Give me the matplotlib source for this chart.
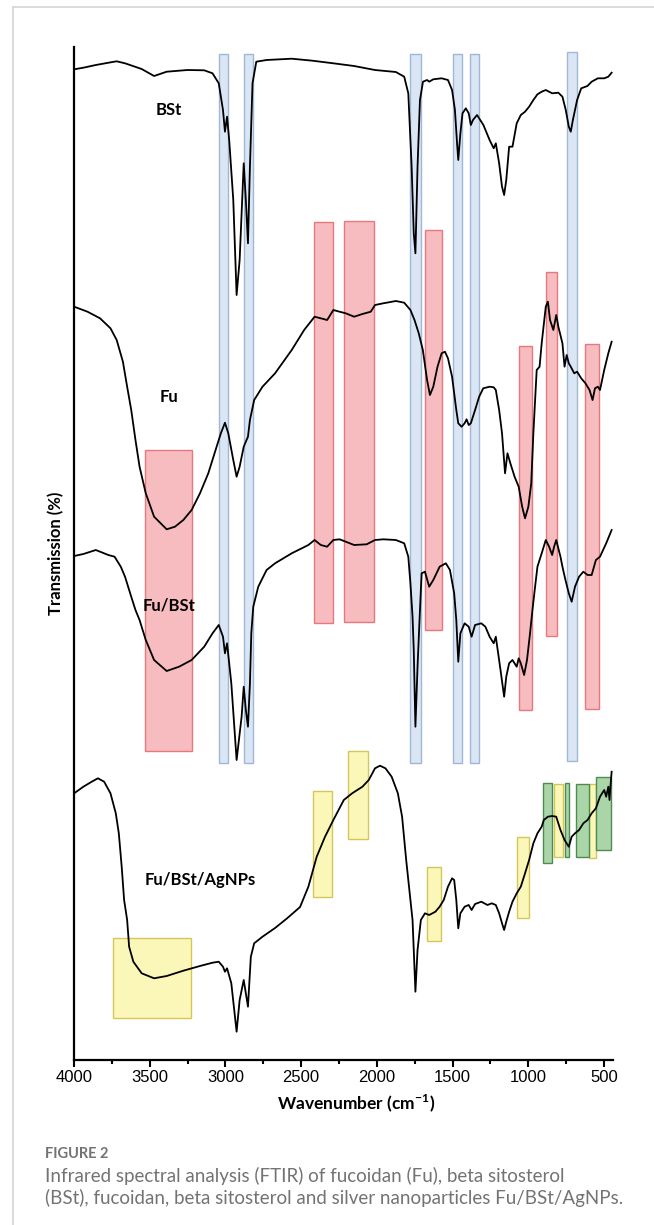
import matplotlib
matplotlib.use("Agg")
import matplotlib.pyplot as plt
from matplotlib.patches import Rectangle
from matplotlib.lines import Line2D

plt.rcParams['mathtext.fontset'] = 'custom'
plt.rcParams['mathtext.rm'] = 'Lato:bold'
plt.rcParams['mathtext.bf'] = 'Lato:bold'

# ---- spectra (wavenumber cm-1, stacked transmission in arbitrary units) ----
bst_wn = [3999, 3938, 3856, 3746, 3718, 3663, 3553, 3471, 3388, 3250, 3140, 3085, 3044, 3016, 3003,
          2989, 2975, 2948, 2926, 2906, 2879, 2865, 2851, 2838, 2821, 2796, 2728, 2562, 2425, 2287,
          2150, 2012, 1874, 1819, 1792, 1770, 1756, 1745, 1731, 1715, 1695, 1668, 1654, 1627, 1572,
          1530, 1503, 1484, 1470, 1462, 1448, 1434, 1412, 1393, 1379, 1365, 1338, 1296, 1255, 1228,
          1214, 1192, 1173, 1159, 1145, 1126, 1104, 1076, 1049, 1021, 994, 966, 939, 911, 884, 842,
          801, 774, 752, 732, 719, 705, 677, 650, 609, 581, 540, 498, 471, 449]
bst_t = [99.07, 99.23, 99.5, 99.8, 99.87, 99.67, 99.1, 98.4, 98.83, 99.0, 98.97, 98.67, 97.67, 95.0, 92.83,
         94.33, 92.0, 86.0, 76.5, 80.0, 89.67, 86.0, 81.67, 89.33, 97.67, 99.83, 100.0, 100.13, 99.93, 99.67,
         99.4, 99.0, 98.8, 98.33, 96.67, 89.33, 82.67, 80.67, 89.33, 96.0, 97.83, 98.0, 97.83, 98.07, 98.17,
         98.0, 97.0, 95.0, 91.67, 90.0, 92.67, 94.67, 95.17, 94.67, 93.5, 94.0, 94.5, 93.5, 92.0, 91.17,
         91.67, 89.67, 87.33, 86.5, 88.0, 91.33, 91.33, 93.67, 94.5, 94.83, 95.33, 96.0, 96.57, 96.83, 97.0, 96.67,
         96.73, 96.33, 95.0, 93.33, 92.83, 94.0, 96.0, 97.17, 97.4, 97.83, 98.17, 98.17, 98.33, 98.73]

fu_wn = [3999, 3911, 3828, 3759, 3718, 3677, 3649, 3622, 3594, 3567, 3526, 3471, 3388, 3333, 3278,
         3223, 3168, 3113, 3058, 3030, 3003, 2981, 2948, 2926, 2906, 2879, 2851, 2838, 2810, 2755,
         2672, 2562, 2480, 2411, 2370, 2328, 2287, 2246, 2205, 2150, 2095, 2040, 2012, 1957, 1874,
         1819, 1778, 1751, 1723, 1696, 1668, 1649, 1627, 1599, 1572, 1550, 1530, 1503, 1475, 1462,
         1440, 1420, 1407, 1393, 1379, 1351, 1324, 1297, 1255, 1228, 1214, 1192, 1173, 1153, 1137,
         1118, 1090, 1063, 1040, 1021, 999, 980, 966, 944, 925, 911, 884, 870, 856, 834, 815, 801,
         774, 760, 746, 732, 719, 696, 677, 650, 622, 595, 575, 559, 540, 526, 498, 471, 449]
fu_t = [75.33, 74.83, 74.17, 73.17, 72.0, 69.83, 67.33, 65.0, 62.0, 59.33, 56.67, 54.33, 53.07, 53.33, 54.0,
        55.0, 56.67, 58.67, 61.33, 62.67, 63.73, 62.67, 60.0, 58.33, 59.33, 61.33, 62.33, 64.0, 66.0, 67.33,
        68.67, 71.0, 73.0, 74.33, 74.17, 74.0, 75.0, 74.83, 74.67, 74.33, 74.6, 74.83, 75.5, 75.67, 75.9,
        75.73, 75.0, 74.0, 72.67, 71.0, 68.0, 66.5, 67.33, 69.33, 70.67, 70.83, 70.17, 68.33, 65.0, 63.67,
        63.33, 63.67, 64.07, 63.5, 63.67, 65.0, 66.33, 67.17, 67.33, 67.27, 67.0, 65.0, 62.67, 58.67, 60.67,
        59.67, 58.33, 57.33, 55.33, 54.17, 55.33, 57.67, 62.67, 69.0, 69.33, 71.67, 75.33, 75.83, 74.0, 73.0, 74.5, 73.33,
        71.67, 69.33, 70.5, 69.67, 69.33, 68.67, 68.83, 68.17, 67.67, 67.0, 66.0, 67.17, 67.33, 67.0, 69.0, 70.67, 71.83]

fubst_wn = [3999, 3938, 3856, 3773, 3732, 3691, 3663, 3622, 3594, 3567, 3526, 3471, 3388, 3306, 3223,
            3140, 3085, 3044, 3016, 3003, 2989, 2961, 2926, 2893, 2879, 2865, 2851, 2838, 2829, 2816,
            2783, 2728, 2672, 2562, 2452, 2411, 2370, 2328, 2287, 2246, 2205, 2150, 2067, 2012, 1957,
            1874, 1819, 1792, 1778, 1764, 1756, 1745, 1731, 1715, 1704, 1682, 1654, 1627, 1585, 1544,
            1517, 1489, 1475, 1462, 1448, 1420, 1393, 1374, 1351, 1310, 1283, 1255, 1228, 1214, 1186,
            1159, 1145, 1126, 1104, 1076, 1063, 1049, 1027, 1008, 988, 972, 952, 939, 911, 884, 862,
            842, 829, 815, 787, 774, 754, 732, 713, 691, 664, 636, 608, 581, 553, 526, 485, 449]
fubst_t = [50.4, 50.6, 51.0, 50.5, 50.33, 49.33, 48.33, 46.33, 45.0, 44.0, 42.0, 40.0, 38.9, 39.33, 40.0,
           41.33, 42.67, 43.5, 42.33, 40.67, 41.67, 37.67, 30.0, 34.33, 37.33, 35.0, 33.33, 37.67, 42.67, 45.33,
           47.33, 49.0, 49.67, 50.67, 51.5, 52.0, 51.5, 51.33, 52.0, 52.07, 51.83, 51.5, 51.57, 52.0, 52.07,
           52.0, 51.67, 50.33, 47.67, 44.33, 41.0, 33.33, 39.33, 45.0, 48.67, 48.83, 47.33, 48.0, 49.33, 49.67,
           49.0, 46.67, 44.0, 39.83, 42.67, 43.67, 43.33, 42.33, 43.5, 43.67, 43.33, 42.33, 41.67, 42.33, 39.33,
           36.33, 38.33, 39.67, 40.0, 39.33, 40.17, 39.67, 38.5, 40.0, 42.67, 45.0, 47.67, 49.33, 50.67, 52.0, 51.33,
           50.5, 51.33, 52.0, 50.33, 49.33, 48.0, 46.67, 45.83, 47.33, 48.33, 48.83, 48.5, 48.5, 50.0, 50.33, 51.67, 53.0]

ag_wn = [3999, 3938, 3883, 3842, 3801, 3759, 3724, 3704, 3685, 3669, 3649, 3636, 3608, 3553, 3471,
         3388, 3278, 3168, 3085, 3044, 3016, 3003, 2989, 2961, 2926, 2906, 2879, 2865, 2851, 2832,
         2810, 2755, 2672, 2590, 2507, 2452, 2397, 2342, 2287, 2218, 2163, 2095, 2053, 2012,
         1979, 1943, 1902, 1861, 1833, 1806, 1778, 1764, 1756, 1745, 1731, 1709, 1682, 1654, 1613,
         1585, 1558, 1530, 1503, 1489, 1475, 1462, 1448, 1420, 1393, 1374, 1351, 1310, 1269, 1241,
         1214, 1192, 1173, 1159, 1145, 1126, 1104, 1076, 1049, 1021, 994, 966, 939, 911, 897, 870,
         842, 815, 787, 760, 732, 713, 691, 664, 636, 608, 581, 553, 526, 498, 485, 471, 463, 457, 449]
ag_t = [26.67, 27.33, 27.83, 28.17, 27.83, 26.67, 24.67, 22.67, 19.33, 16.0, 14.0, 11.33, 9.83, 8.67, 8.17,
        8.4, 8.93, 9.4, 9.73, 9.83, 9.33, 8.83, 9.17, 7.67, 2.83, 6.0, 8.0, 6.67, 5.33, 10.33,
        11.67, 12.33, 13.2, 14.2, 15.3, 17.33, 20.33, 22.33, 24.0, 26.0, 26.67, 27.33, 28.0, 29.17,
        29.43, 29.17, 28.33, 26.67, 24.33, 20.0, 16.0, 14.0, 11.0, 6.83, 11.0, 14.0, 14.67, 14.5, 14.83,
        15.33, 16.0, 17.33, 18.17, 18.0, 16.0, 13.17, 14.67, 15.33, 15.5, 15.0, 15.6, 15.83, 15.5, 15.67,
        15.5, 14.67, 13.67, 13.0, 13.83, 14.83, 15.83, 16.67, 17.33, 18.67, 20.0, 21.67, 22.67, 23.33, 24.0, 24.33,
        24.4, 24.33, 23.0, 22.0, 21.33, 22.33, 22.67, 23.0, 23.67, 24.0, 24.67, 25.17, 26.33, 27.0, 26.33, 27.33, 26.0, 27.33, 28.83]

# ---- highlighted bands: (wn_low, wn_high, t_low, t_high) ----
blue_bands = [(2980, 3040, 29.7, 100.6), (2820, 2880, 29.7, 100.6), (1705, 1778, 29.7, 100.6),
              (1437, 1500, 29.7, 100.6), (1327, 1382, 29.7, 100.6), (678, 741, 29.9, 100.8)]
red_bands = [(3223, 3531, 30.9, 61.0), (2287, 2414, 43.7, 83.8), (2020, 2215, 43.8, 83.9),
             (1571, 1684, 43.0, 83.0), (977, 1060, 35.0, 71.4), (812, 881, 42.4, 78.8),
             (531, 622, 35.1, 71.6)]
yellow_bands = [(3226, 3740, 4.2, 12.2), (2295, 2422, 16.3, 26.9), (2059, 2191, 22.1, 30.9),
                (1578, 1671, 11.9, 19.3), (994, 1074, 14.2, 22.3), (773, 832, 20.3, 27.6),
                (553, 600, 20.2, 27.6)]
green_bands = [(840, 903, 19.7, 27.7), (729, 754, 20.3, 27.7), (600, 685, 20.3, 27.6),
               (454, 553, 21.0, 28.3)]

labels = ['BSt', 'Fu', 'Fu/BSt', 'Fu/BSt/AgNPs']
label_wn = [3374, 3374, 3374, 3168]
label_t = [95.0, 66.3, 45.5, 18.0]

xticks = [4000, 3500, 3000, 2500, 2000, 1500, 1000, 500]

fig = plt.figure(figsize=(6.54, 12.25), dpi=100)
ax = fig.add_axes([0.11315, 0.13469, 0.82416, 0.82694])


def add_bands(bands, face, edge):
    for lo, hi, b, t in bands:
        ax.add_patch(Rectangle((lo, b), hi - lo, t - b, facecolor=face, edgecolor=edge,
                               linewidth=1.0, zorder=1))


add_bands(blue_bands, '#dbe6f4', '#9fb8d8')
add_bands(red_bands, '#f6bcbf', '#e8787e')
add_bands(yellow_bands, '#fbf7b9', '#d4c75a')
add_bands(green_bands, '#a9d5a9', '#4f8a50')

for wn, t in [(bst_wn, bst_t), (fu_wn, fu_t), (fubst_wn, fubst_t), (ag_wn, ag_t)]:
    ax.plot(wn, t, color='black', lw=1.3, zorder=3)

for s, x, y in zip(labels, label_wn, label_t):
    ax.text(x, y, s, ha='center', va='center', fontsize=12, fontweight='bold',
            family='Lato', zorder=4)

ax.set_xlim(4000, 440)
ax.set_ylim(0, 101.3)
ax.set_xticks(xticks)
ax.set_xticks(range(3750, 500, -500), minor=True)
ax.set_yticks([])
for s in ['top', 'right']:
    ax.spines[s].set_visible(False)
for s in ['left', 'bottom']:
    ax.spines[s].set_linewidth(1.6)
ax.tick_params(axis='x', which='major', length=5, width=1.5, labelsize=12, pad=2)
ax.tick_params(axis='x', which='minor', length=3, width=1.5)
for lab in ax.get_xticklabels():
    lab.set_family('Liberation Sans')

ax.set_xlabel('Wavenumber (cm$^{-1}$)', fontsize=12.5, fontweight='bold', family='Lato')
ax.xaxis.set_label_coords(0.523, -0.0424)
ax.xaxis.label.set_va('center')
ax.set_ylabel('Transmission (%)', fontsize=12, fontweight='bold', family='Lato')
ax.yaxis.set_label_coords(-0.0334, 0.5)
ax.yaxis.label.set_va('center')

# page frame and caption
fig.add_artist(Line2D([13 / 654, 13 / 654], [0, 1 - 7 / 1225], color='#d4d4d4', lw=1.2))
fig.add_artist(Line2D([13 / 654, 1], [1 - 7 / 1225, 1 - 7 / 1225], color='#d4d4d4', lw=1.2))
fig.text(45 / 654, 1 - 1154 / 1225, 'FIGURE 2', fontsize=10.5, fontweight='bold',
         color='#737373', family='Lato', va='center')
fig.text(45 / 654, 1 - 1176 / 1225, 'Infrared spectral analysis (FTIR) of fucoidan (Fu), beta sitosterol',
         fontsize=13.5, color='#737373', family='Lato', va='center')
fig.text(45 / 654, 1 - 1198 / 1225,
         '(BSt), fucoidan, beta sitosterol and silver nanoparticles Fu/BSt/AgNPs.',
         fontsize=13.5, color='#737373', family='Lato', va='center')

fig.savefig('out.png', dpi=100)
